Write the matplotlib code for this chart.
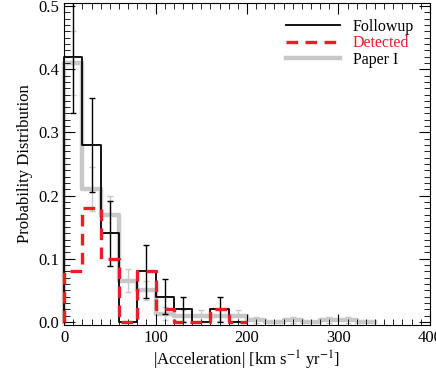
import numpy as np
import matplotlib.pyplot as plt
from matplotlib.ticker import MultipleLocator

plt.rcParams['font.family'] = ['Liberation Serif', 'DejaVu Serif']
plt.rcParams['mathtext.fontset'] = 'stix'

# bin left edges, 20 km/s/yr wide
bin_width = 20
followup = [0.42, 0.28, 0.14, 0.0, 0.08, 0.04, 0.02, 0.0, 0.02, 0.0]
followup_err = [0.09, 0.075, 0.052, 0.0, 0.042, 0.028, 0.02, 0.0, 0.02, 0.0]
detected = [0.08, 0.18, 0.10, 0.0, 0.08, 0.02, 0.0, 0.0, 0.02, 0.0]
paper1 = [0.41, 0.21, 0.17, 0.065, 0.05, 0.013, 0.01, 0.01, 0.01, 0.01,
          0.003, 0.0, 0.003, 0.0, 0.003, 0.003, 0.0]
paper1_err = [0.05, 0.035, 0.03, 0.018, 0.015, 0.01, 0.008, 0.008, 0.008, 0.008,
              0.005, 0.0, 0.005, 0.0, 0.005, 0.005, 0.0]


def outline(vals):
    vals = np.asarray(vals)
    edges = np.arange(len(vals) + 1) * bin_width
    x = np.repeat(edges, 2)
    y = np.concatenate([[0], np.repeat(vals, 2), [0]])
    return x, y


def centers(vals):
    return np.arange(len(vals)) * bin_width + bin_width / 2


fig = plt.figure(figsize=(4.36, 3.74), dpi=100)
ax = fig.add_axes([0.147, 0.131, 0.839, 0.861])

# Paper I (grey, thick)
x, y = outline(paper1)
ax.plot(x, y, color='#c8c8c8', lw=3.2, label='Paper I', zorder=1, clip_on=False)
m = np.array(paper1) > 0
ax.errorbar(centers(paper1)[m], np.array(paper1)[m], yerr=np.array(paper1_err)[m],
            fmt='none', ecolor='#c8c8c8', elinewidth=1, capsize=2, zorder=1)

# Followup (black)
x, y = outline(followup)
ax.plot(x, y, color='black', lw=1.3, label='Followup', zorder=3, clip_on=False)
m = np.array(followup) > 0
ax.errorbar(centers(followup)[m], np.array(followup)[m], yerr=np.array(followup_err)[m],
            fmt='none', ecolor='black', elinewidth=1, capsize=2, zorder=3)

# Detected (red dashed)
x, y = outline(detected)
ax.plot(x, y, color='#ee1c25', lw=2.4, ls=(0, (3.5, 2.2)), label='Detected',
        zorder=4, clip_on=False)

ax.set_xlim(0, 400)
ax.set_ylim(-0.005, 0.505)
ax.xaxis.set_major_locator(MultipleLocator(100))
ax.xaxis.set_minor_locator(MultipleLocator(10))
ax.yaxis.set_major_locator(MultipleLocator(0.1))
ax.yaxis.set_minor_locator(MultipleLocator(0.01))
ax.yaxis.set_major_formatter(plt.FormatStrFormatter('%.1f'))
ax.tick_params(which='both', direction='in', top=True, right=True, labelsize=12)
ax.tick_params(which='major', length=8, width=0.8)
ax.tick_params(which='minor', length=4, width=0.6)
for s in ax.spines.values():
    s.set_zorder(0.5)

ax.set_xlabel(r'|Acceleration| [km s$^{-1}$ yr$^{-1}$]', fontsize=12, labelpad=2)
ax.set_ylabel('Probability Distribution', fontsize=12)

handles, labels = ax.get_legend_handles_labels()
order = [1, 2, 0]
leg = ax.legend([handles[i] for i in order], [labels[i] for i in order],
                loc='upper right', frameon=False, fontsize=11.5, handlelength=3.4,
                labelspacing=0.02, borderaxespad=0.6)
leg.get_texts()[1].set_color('#ee1c25')

fig.savefig('out.png', dpi=100)
